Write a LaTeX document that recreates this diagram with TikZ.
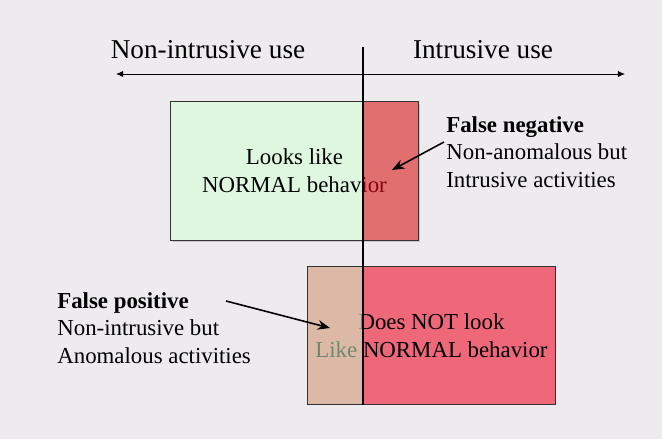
\documentclass[tikz,border=0pt]{standalone}
\usepackage{fontspec}
\setmainfont{Liberation Serif}
\usetikzlibrary{positioning,arrows.meta,calc}
\definecolor{slideBg}{HTML}{EDEBEE}
\definecolor{normalGreen}{HTML}{DFF7DF}
\definecolor{intrusiveRed}{HTML}{E6081C}
\definecolor{anomalyPink}{HTML}{EE687A}
\definecolor{overlayGreen}{HTML}{CDFFCD}
\definecolor{frameGray}{HTML}{333333}

\begin{document}
\begin{tikzpicture}[
  x=0.02cm, y=-0.02cm,
  font=\fontsize{13}{15.8}\selectfont,
  region/.style={
    rectangle, minimum width=4.94cm, minimum height=2.76cm,
    inner sep=0pt, align=center
  },
  frame/.style={draw=frameGray, line width=0.6pt},
  heading/.style={font=\fontsize{15.5}{18}\selectfont},
  caselabel/.style={align=left, inner sep=0pt},
  pointer/.style={-{Stealth[length=7pt,width=5.5pt]}, line width=0.9pt},
  axis/.style={{Latex[length=4pt,width=3.5pt]}-{Latex[length=4pt,width=3.5pt]}, line width=0.5pt}
]

  % slide background
  \fill[slideBg] (0,0) rectangle (662,439);
  \useasboundingbox (0,0) rectangle (662,439);

  % divider and usage axis
  \coordinate (divtop) at (363,47);
  \coordinate (divbot) at (363,405);
  \coordinate (axisleft) at (116,74);
  \coordinate (axisright) at (625,74);

  % Looks like NORMAL behavior
  \fill[black!22] (173,104) rectangle (420,242);
  \node[region, fill=normalGreen] (normalbox) at (294.5,171)
    {Looks like\\NORMAL behavior};
  \fill[intrusiveRed, opacity=0.57]
    (normalbox.north east) rectangle (normalbox.south -| divtop);
  \draw[frame] (normalbox.north west) rectangle (normalbox.south east);

  % Does NOT look Like NORMAL behavior
  \node[region, fill=anomalyPink] (anomalybox) at (431.5,335.5)
    {Does NOT look\\Like NORMAL behavior};
  \fill[overlayGreen, opacity=0.54]
    (anomalybox.north west) rectangle (anomalybox.south -| divtop);
  \draw[frame] (anomalybox.north west) rectangle (anomalybox.south east);

  % Relaciones de uso
  \draw[line width=0.6pt] (divtop) -- (divbot);
  \draw[axis] (axisleft) -- (axisright);
  \node[heading] (nonintrusive) at (208,50) {Non-intrusive use};
  \node[heading] (intrusive) at (483,50) {Intrusive use};

  % False negative
  \node[caselabel, anchor=west] (falseneg) at (446,152)
    {\textbf{False negative}\\Non-anomalous but\\Intrusive activities};
  \coordinate (fntip) at (392,170);
  \draw[pointer] ([shift={(-2,-10)}]falseneg.west) -- (fntip);

  % False positive
  \node[caselabel, anchor=west] (falsepos) at (57,328)
    {\textbf{False positive}\\Non-intrusive but\\Anomalous activities};
  \coordinate (fptail) at (226,301);
  \coordinate (fptip) at (330,328);
  \draw[pointer] (fptail) -- (fptip);

\end{tikzpicture}
\end{document}
